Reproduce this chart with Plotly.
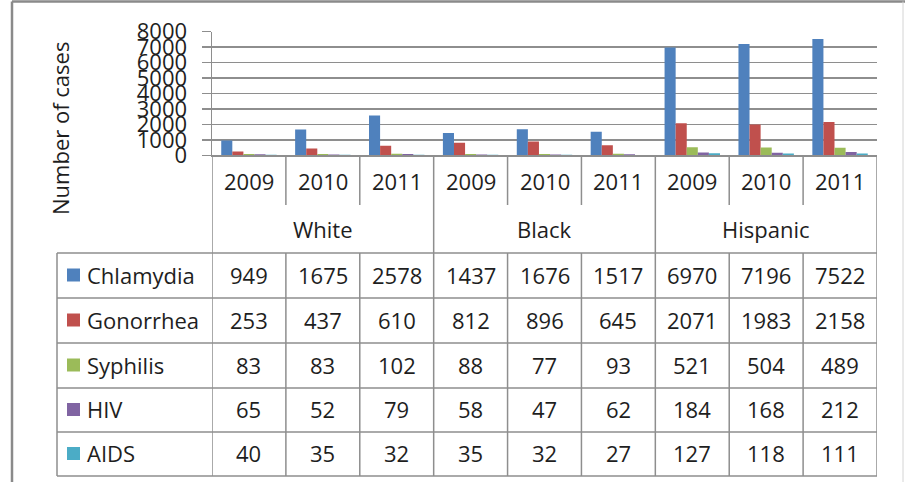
import plotly.graph_objects as go

# ---- data ----
groups = ["White", "Black", "Hispanic"]
years = ["2009", "2010", "2011"]
series = ["Chlamydia", "Gonorrhea", "Syphilis", "HIV", "AIDS"]
chlamydia = [949, 1675, 2578, 1437, 1676, 1517, 6970, 7196, 7522]
gonorrhea = [253, 437, 610, 812, 896, 645, 2071, 1983, 2158]
syphilis = [83, 83, 102, 88, 77, 93, 521, 504, 489]
hiv = [65, 52, 79, 58, 47, 62, 184, 168, 212]
aids = [40, 35, 32, 35, 32, 27, 127, 118, 111]
y_ticks = [0, 1000, 2000, 3000, 4000, 5000, 6000, 7000, 8000]

values = [chlamydia, gonorrhea, syphilis, hiv, aids]
colors = ["#4F81BD", "#C0504D", "#9BBB59", "#8064A2", "#4BACC6"]
categories = [f"{g} {y}" for g in groups for y in years]

W, H = 905, 482
FONT = "Open Sans"
TXT = "#1e1e1e"
LINE = "#8e8e8e"
FS = 22


def px(x):
    return x / W


def py(y):
    return 1 - y / H


fig = go.Figure()
for name, vals, c in zip(series, values, colors):
    fig.add_trace(go.Bar(x=categories, y=vals, name=name, marker_color=c,
                         marker_line=dict(width=0), hoverinfo="skip"))

PLOT_L, PLOT_R, PLOT_T, PLOT_B = 212, 877, 31.5, 155.3
fig.update_layout(
    width=W, height=H,
    margin=dict(l=0, r=0, t=0, b=0, pad=0),
    paper_bgcolor="white", plot_bgcolor="white",
    barmode="group", bargap=0.25, bargroupgap=0,
    showlegend=False,
    font=dict(family=FONT, size=FS, color=TXT),
    xaxis=dict(domain=[px(PLOT_L), px(PLOT_R)], showticklabels=False, ticks="",
               showgrid=False, showline=True, linecolor=LINE, linewidth=1.5,
               range=[-0.5, 8.5], fixedrange=True, automargin=False),
    yaxis=dict(domain=[py(PLOT_B), py(PLOT_T)], range=[0, 8000],
               tickmode="array", tickvals=y_ticks, ticktext=[str(v) for v in y_ticks],
               showgrid=True, gridcolor=LINE, gridwidth=1.5,
               ticks="outside", ticklen=9, tickcolor=LINE, tickwidth=1.5,
               showline=True, linecolor=LINE, linewidth=1.5,
               tickfont=dict(family=FONT, size=FS, color=TXT),
               ticklabelstandoff=10, zeroline=False, automargin=False, fixedrange=True),
)

shapes = []
ann = []


def hline(x0, x1, y, color=LINE, w=1.5):
    shapes.append(dict(type="line", xref="paper", yref="paper", x0=px(x0), x1=px(x1),
                       y0=py(y), y1=py(y), line=dict(color=color, width=w)))


def vline_x(i, y0, y1):
    shapes.append(dict(type="line", xref="x", yref="paper", x0=i, x1=i,
                       y0=py(y0), y1=py(y1), line=dict(color=LINE, width=1.5)))


def text(x, y, s, xref="paper", xanchor="center", angle=0):
    ann.append(dict(x=x, y=py(y), xref=xref, yref="paper", text=s, showarrow=False,
                    xanchor=xanchor, yanchor="middle", textangle=angle,
                    font=dict(size=FS, color=TXT, family=FONT)))


# outer frame
shapes.append(dict(type="line", xref="paper", yref="paper", x0=px(12), x1=px(12),
                   y0=py(1.5), y1=0, line=dict(color="#8a8a8a", width=2.5)))
hline(12, 905, 1.5, "#8a8a8a", 2.5)
shapes.append(dict(type="line", xref="paper", yref="paper", x0=px(903), x1=px(903),
                   y0=py(1.5), y1=0, line=dict(color="#d4d4d4", width=1)))

# category area dividers
row_tops = [253, 298, 343, 388, 432, 476]
for k in range(10):
    pos = k - 0.5
    if k % 3 == 0:
        vline_x(pos, PLOT_B, row_tops[-1])
    else:
        vline_x(pos, PLOT_B, 205)
        vline_x(pos, row_tops[0], row_tops[-1])

# data table lines
for y in row_tops:
    hline(57, PLOT_R, y)
shapes.append(dict(type="line", xref="paper", yref="paper", x0=px(57), x1=px(57),
                   y0=py(row_tops[0]), y1=py(row_tops[-1]), line=dict(color=LINE, width=1.5)))

# year and group labels
for gi, g in enumerate(groups):
    for yi, yr in enumerate(years):
        text(categories[gi * 3 + yi], 181, yr, xref="x")
    text(categories[gi * 3 + 1], 229, g, xref="x")

# table rows
for r, (name, vals, c) in enumerate(zip(series, values, colors)):
    yc = (row_tops[r] + row_tops[r + 1]) / 2 - 1
    shapes.append(dict(type="rect", xref="paper", yref="paper", x0=px(67), x1=px(80),
                       y0=py(yc - 6), y1=py(yc + 7), fillcolor=c, line=dict(width=0)))
    text(px(85), yc, name, xanchor="left")
    for i, v in enumerate(vals):
        text(categories[i], yc, str(v), xref="x")

# y axis title
text(px(60), 129, "Number of cases", angle=-90)

fig.update_layout(shapes=shapes, annotations=ann)
fig.write_html("out.html", config={"displayModeBar": False, "staticPlot": True},
               post_script="document.body.style.margin='0px';")
